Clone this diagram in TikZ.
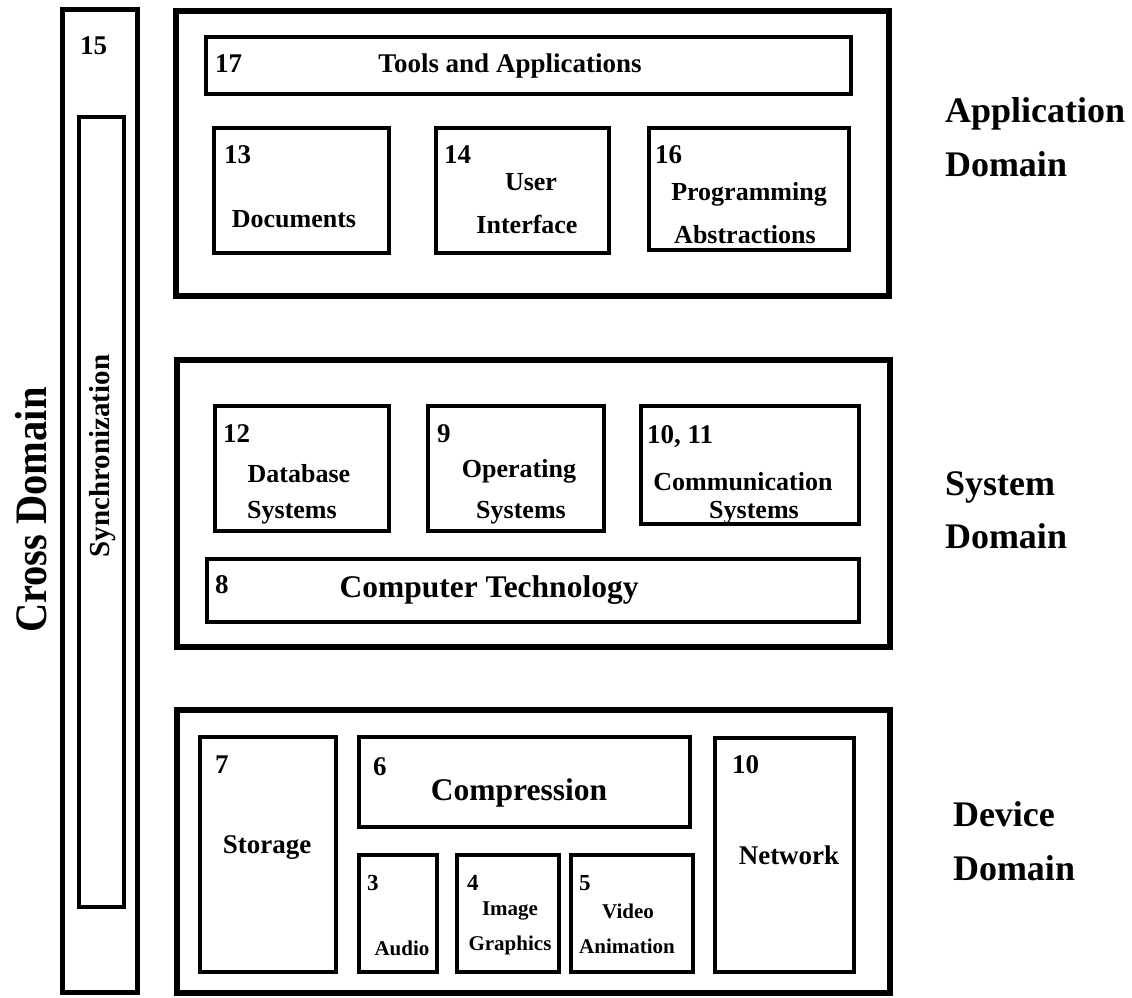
\documentclass[tikz,border=0pt]{standalone}
\usepackage{fontspec}
\setmainfont{Liberation Serif}
\newfontfamily\crossfont[FakeStretch=0.9]{Liberation Serif}
\newcommand\bx[6]{\node[#1,minimum width={#5-#3},minimum height={#6-#4}] (#2) at ({(#3+#5)/2},{(#4+#6)/2}) {};}
\newcommand\fs[1]{\bfseries\fontsize{#1}{#1}\selectfont}
\begin{document}
\begin{tikzpicture}[x=1pt,y=-1pt,
  outerbox/.style={draw,line width=6pt,inner sep=0pt,outer sep=0pt},
  crossbox/.style={draw,line width=5pt,inner sep=0pt,outer sep=0pt},
  innerbox/.style={draw,line width=4pt,inner sep=0pt,outer sep=0pt},
  txt/.style={inner sep=0pt,outer sep=0pt,anchor=base,font=\fs{26}},
  num/.style={inner sep=0pt,outer sep=0pt,anchor=base west,font=\fs{27}},
  smalltxt/.style={txt,font=\fs{21}},
  smallnum/.style={num,font=\fs{23}},
  bigtxt/.style={txt,font=\fs{31.5}},
  domlabel/.style={inner sep=0pt,outer sep=0pt,anchor=base west,font=\fs{36}},
  vert/.style={inner sep=0pt,outer sep=0pt,rotate=90,anchor=center}]
\useasboundingbox (0,0) rectangle (1132,998);
% cross domain
\bx{crossbox}{cross}{62.5}{10}{137.5}{992}
\bx{innerbox}{sync}{79}{117}{124}{907}
\node[num] (n15) at (80,55) {15};
\node[vert,font=\fs{29}] (synctxt) at (103,456) {Synchronization};
\node[vert,font=\crossfont\fs{45}] (crosstxt) at (31,510) {Cross Domain};
% application domain
\bx{outerbox}{app}{176}{11}{889}{296}
\bx{innerbox}{tools}{206}{37}{851}{94}
\bx{innerbox}{b13}{214}{128}{389}{253}
\bx{innerbox}{b14}{436}{128}{609}{253}
\bx{innerbox}{b16}{649}{128}{849}{250}
\node[num] (n17) at (215,72) {17};
\node[txt,font=\fs{27}] (t17) at (510,72) {Tools and Applications};
\node[num] (n13) at (224,163) {13};
\node[txt] (t13) at (294,227) {Documents};
\node[num] (n14) at (444,163) {14};
\node[txt] (t14a) at (531,190) {User};
\node[txt] (t14b) at (527,233) {Interface};
\node[num] (n16) at (655,163) {16};
\node[txt] (t16a) at (749,200) {Programming};
\node[txt] (t16b) at (745,243) {Abstractions};
% system domain
\bx{outerbox}{sys}{177}{360}{890}{647}
\bx{innerbox}{b12}{215}{406}{389}{531}
\bx{innerbox}{b9}{428}{406}{604}{531}
\bx{innerbox}{b1011}{641}{406}{859}{524}
\bx{innerbox}{b8}{207}{559}{859}{622}
\node[num] (n12) at (223,442) {12};
\node[txt] (t12a) at (299,482) {Database};
\node[txt] (t12b) at (292,518) {Systems};
\node[num] (n9) at (437,442) {9};
\node[txt] (t9a) at (519,477) {Operating};
\node[txt] (t9b) at (521,518) {Systems};
\node[num] (n1011) at (647,443) {10, 11};
\node[txt] (t1011a) at (743,490) {Communication};
\node[txt] (t1011b) at (754,518) {Systems};
\node[num] (n8) at (215,593) {8};
\node[bigtxt] (t8) at (489,597) {Computer Technology};
% device domain
\bx{outerbox}{dev}{177}{710}{890}{993}
\bx{innerbox}{b7}{200}{737}{336}{972}
\bx{innerbox}{b6}{359}{737}{690}{827}
\bx{innerbox}{b3}{359}{855}{437}{972}
\bx{innerbox}{b4}{457}{855}{559}{972}
\bx{innerbox}{b5}{571}{855}{693}{972}
\bx{innerbox}{b10}{715}{738}{854}{972}
\node[num] (n7) at (215,773) {7};
\node[txt,font=\fs{27}] (t7) at (267,853) {Storage};
\node[num] (n6) at (373,775) {6};
\node[bigtxt] (t6) at (519,800) {Compression};
\node[smallnum] (n3) at (367,890) {3};
\node[smalltxt] (t3) at (402,955) {Audio};
\node[smallnum] (n4) at (467,890) {4};
\node[smalltxt] (t4a) at (510,915) {Image};
\node[smalltxt] (t4b) at (510,950) {Graphics};
\node[smallnum] (n5) at (579,890) {5};
\node[smalltxt] (t5a) at (628,918) {Video};
\node[smalltxt] (t5b) at (627,953) {Animation};
\node[num] (n10) at (732,773) {10};
\node[txt,font=\fs{27}] (t10) at (789,864) {Network};
% domain labels
\node[domlabel] (dA1) at (945,122) {Application};
\node[domlabel] (dA2) at (945,176) {Domain};
\node[domlabel] (dS1) at (945,495) {System};
\node[domlabel] (dS2) at (945,548) {Domain};
\node[domlabel] (dD1) at (953,826) {Device};
\node[domlabel] (dD2) at (953,880) {Domain};
\end{tikzpicture}
\end{document}
